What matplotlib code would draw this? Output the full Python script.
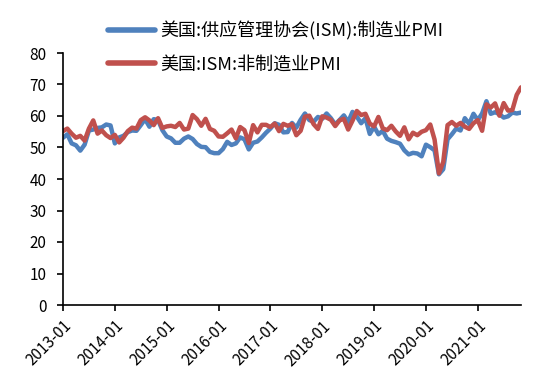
import pandas as pd
import matplotlib.pyplot as plt

plt.rcParams['font.family'] = ['Noto Sans CJK SC', 'DejaVu Sans']

# 月度数据 2013-01 ~ 2021-11
months = pd.date_range("2013-01-01", "2021-11-01", freq="MS").strftime("%Y-%m").tolist()

pmi_mfg = [
    53.1, 54.2, 51.3, 50.7, 49.0, 50.9, 55.4, 55.7, 56.2, 56.4, 57.3, 57.0,  # 2013
    51.3, 53.2, 53.7, 54.9, 55.4, 55.3, 57.1, 59.0, 56.6, 59.0, 58.7, 55.5,  # 2014
    53.5, 52.9, 51.5, 51.5, 52.8, 53.5, 52.7, 51.1, 50.2, 50.1, 48.6, 48.2,  # 2015
    48.2, 49.5, 51.8, 50.8, 51.3, 53.2, 52.6, 49.4, 51.5, 51.9, 53.2, 54.7,  # 2016
    56.0, 57.7, 57.2, 54.8, 54.9, 57.8, 56.3, 58.8, 60.8, 58.7, 58.2, 59.7,  # 2017
    59.1, 60.8, 59.3, 57.3, 58.7, 60.2, 58.1, 61.3, 59.8, 57.7, 59.3, 54.3,  # 2018
    56.6, 54.2, 55.3, 52.8, 52.1, 51.7, 51.2, 49.1, 47.8, 48.3, 48.1, 47.2,  # 2019
    50.9, 50.1, 49.1, 41.5, 43.1, 52.6, 54.2, 56.0, 55.4, 59.3, 57.5, 60.7,  # 2020
    58.7, 60.8, 64.7, 60.7, 61.2, 60.6, 59.5, 59.9, 61.1, 60.8, 61.1,        # 2021
]

pmi_nonmfg = [
    55.2, 56.0, 54.4, 53.1, 53.7, 52.2, 56.0, 58.6, 54.4, 55.4, 53.9, 53.0,  # 2013
    54.0, 51.6, 53.1, 55.2, 56.3, 56.0, 58.7, 59.6, 58.6, 57.1, 59.3, 56.2,  # 2014
    56.7, 56.9, 56.5, 57.8, 55.7, 56.0, 60.3, 59.0, 56.9, 59.1, 55.9, 55.3,  # 2015
    53.5, 53.4, 54.5, 55.7, 52.9, 56.5, 55.5, 51.4, 57.1, 54.8, 57.2, 57.2,  # 2016
    56.5, 57.6, 55.2, 57.5, 56.9, 57.4, 53.9, 55.3, 59.8, 60.1, 57.4, 55.9,  # 2017
    59.9, 59.5, 58.8, 56.8, 58.6, 59.1, 55.7, 58.5, 61.6, 60.3, 60.7, 57.6,  # 2018
    56.7, 59.7, 56.1, 55.5, 56.9, 55.1, 53.7, 56.4, 52.6, 54.7, 53.9, 55.0,  # 2019
    55.5, 57.3, 52.5, 41.8, 45.4, 57.1, 58.1, 56.9, 57.8, 56.6, 55.9, 57.7,  # 2020
    58.7, 55.3, 63.7, 62.7, 64.0, 60.1, 64.1, 61.7, 61.9, 66.7, 69.1,        # 2021
]

labels = ["美国:供应管理协会(ISM):制造业PMI", "美国:ISM:非制造业PMI"]
yticks = [0, 10, 20, 30, 40, 50, 60, 70, 80]

fig = plt.figure(figsize=(5.5, 3.77), dpi=100)
ax = fig.add_axes([63 / 550, 1 - 305 / 377, (521 - 63) / 550, (305 - 53) / 377])

x = range(len(months))
ax.plot(x, pmi_mfg, color="#4F81BD", lw=3.2, label=labels[0], solid_capstyle="round")
ax.plot(x, pmi_nonmfg, color="#C0504D", lw=3.2, label=labels[1], solid_capstyle="round")

ax.set_xlim(0, len(months) - 1)
ax.set_ylim(0, 80)
ax.set_yticks(yticks)
ax.set_xticks(list(range(0, len(months), 12)))
ax.set_xticklabels(months[::12], rotation=45, ha="right", rotation_mode="anchor")

for s in ["top", "right"]:
    ax.spines[s].set_visible(False)
for s in ["left", "bottom"]:
    ax.spines[s].set_linewidth(1.2)
ax.tick_params(axis="both", direction="out", length=4, width=1.2, labelsize=11)
ax.tick_params(axis="y", pad=8)
ax.tick_params(axis="x", pad=5)

leg = fig.legend(loc="upper left", bbox_to_anchor=(108 / 550, 1 - 21 / 377), frameon=False,
                 fontsize=13, handlelength=2.6, handletextpad=0.3, labelspacing=0.85,
                 borderpad=0, borderaxespad=0)
for h in leg.get_lines():
    h.set_linewidth(4)

fig.savefig("out.png", dpi=100)
